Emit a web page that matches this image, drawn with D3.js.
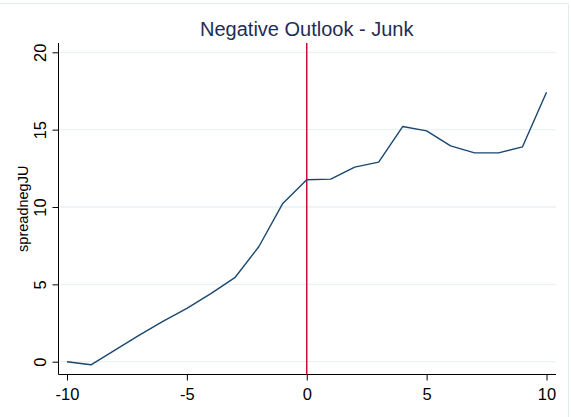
<!DOCTYPE html>
<html>
<head>
<meta charset="utf-8">
<script src="https://cdn.jsdelivr.net/npm/d3@7"></script>
<style>
  body { margin: 0; background: #fff; }
  svg { display: block; font-family: Arial, "Liberation Sans", sans-serif; }
</style>
</head>
<body>
<div id="chart"></div>
<script>
// event time relative to outlook change
const periods = [-10, -9, -8, -7, -6, -5, -4, -3, -2, -1, 0, 1, 2, 3, 4, 5, 6, 7, 8, 9, 10];
// spread, negative outlook, junk
const spreadnegJU = [0.0, -0.2, 0.75, 1.7, 2.6, 3.45, 4.4, 5.43, 7.43, 10.23, 11.76, 11.8, 12.58, 12.9, 15.2, 14.92, 13.95, 13.5, 13.5, 13.89, 17.42];
const xTicks = [-10, -5, 0, 5, 10];
const yTicks = [0, 5, 10, 15, 20];
const eventLine = 0;

const width = 571, height = 417;
const margin = { left: 58.5, right: 15, top: 43, bottom: 43 };

const svg = d3.select('#chart')
    .append('svg')
    .attr('width', width)
    .attr('height', height);

// faint outer frame (top and right edges only show)
svg.append('path')
    .attr('d', `M0,3.5 H568.5 V${height}`)
    .attr('fill', 'none')
    .attr('stroke', '#e3ecef')
    .attr('stroke-width', 1);

const x = d3.scaleLinear().domain([-10, 10]).range([67, 546.5]);
const y = d3.scaleLinear().domain([0, 20]).range([361.7, 52.3]);

const plotRight = 556;
const plotBottom = 374.5;
const plain = d => String(d);   // keep ASCII hyphen for negatives

// gridlines
svg.append('g')
    .selectAll('line')
    .data(yTicks)
    .enter()
    .append('line')
    .attr('x1', margin.left + 1)
    .attr('x2', plotRight)
    .attr('y1', d => y(d))
    .attr('y2', d => y(d))
    .attr('stroke', '#eaf2f3')
    .attr('stroke-width', 1.3);

// y axis
const yAxis = svg.append('g')
    .attr('transform', `translate(${margin.left},0)`)
    .call(d3.axisLeft(y).tickValues(yTicks).tickSize(6).tickPadding(0).tickFormat(plain));
yAxis.select('.domain')
    .attr('d', `M0,${margin.top}V${plotBottom}`)
    .attr('stroke', '#000');
yAxis.selectAll('.tick line').attr('stroke', '#000');
yAxis.selectAll('.tick text')
    .attr('x', 0)
    .attr('dy', 0)
    .attr('transform', 'translate(-12.5,0) rotate(-90)')
    .attr('text-anchor', 'middle')
    .attr('font-size', 16.5)
    .attr('font-family', 'Arial, "Liberation Sans", sans-serif')
    .attr('fill', '#000');

// x axis
const xAxis = svg.append('g')
    .attr('transform', `translate(0,${plotBottom})`)
    .call(d3.axisBottom(x).tickValues(xTicks).tickSize(6).tickPadding(0).tickFormat(plain));
xAxis.select('.domain')
    .attr('d', `M${margin.left},0H${plotRight}`)
    .attr('stroke', '#000');
xAxis.selectAll('.tick line').attr('stroke', '#000');
xAxis.selectAll('.tick text')
    .attr('y', 25)
    .attr('dy', 0)
    .attr('font-size', 16.5)
    .attr('font-family', 'Arial, "Liberation Sans", sans-serif')
    .attr('fill', '#000');

// event line
svg.append('line')
    .attr('x1', x(eventLine))
    .attr('x2', x(eventLine))
    .attr('y1', margin.top)
    .attr('y2', plotBottom)
    .attr('stroke', '#c8102e')
    .attr('stroke-width', 1.5);

// series
const line = d3.line()
    .x((d, i) => x(periods[i]))
    .y(d => y(d));

svg.append('path')
    .datum(spreadnegJU)
    .attr('d', line)
    .attr('fill', 'none')
    .attr('stroke', '#1a476f')
    .attr('stroke-width', 1.4)
    .attr('stroke-linejoin', 'round');

// title
svg.append('text')
    .attr('x', x(0))
    .attr('y', 36)
    .attr('text-anchor', 'middle')
    .attr('font-size', 20)
    .attr('fill', '#1e2d53')
    .text('Negative Outlook - Junk');

// y axis title
svg.append('text')
    .attr('transform', `translate(28,${(margin.top + plotBottom) / 2}) rotate(-90)`)
    .attr('text-anchor', 'middle')
    .attr('font-size', 14.5)
    .attr('fill', '#000')
    .text('spreadnegJU');
</script>
</body>
</html>
